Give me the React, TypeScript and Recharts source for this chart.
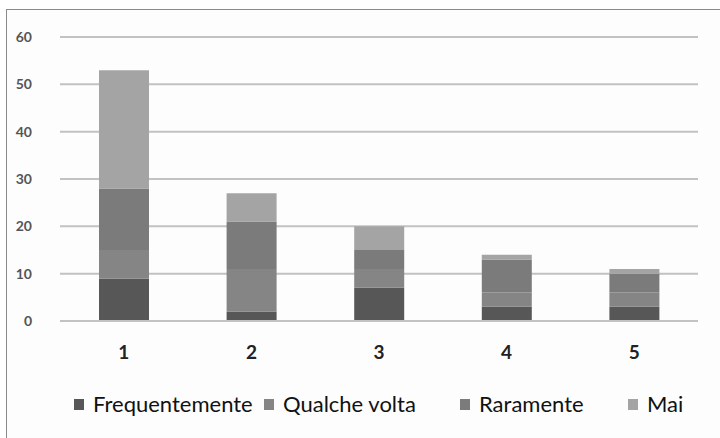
import React from 'react';
import { BarChart, Bar, XAxis, YAxis, CartesianGrid } from 'recharts';

const categories = ['1', '2', '3', '4', '5'];
const frequentemente = [9, 2, 7, 3, 3];
const qualcheVolta = [6, 9, 4, 3, 3];
const raramente = [13, 10, 4, 7, 4];
const mai = [25, 6, 5, 1, 1];
const yTicks = [0, 10, 20, 30, 40, 50, 60];

const data = categories.map((c, i) => ({
  name: c,
  Frequentemente: frequentemente[i],
  'Qualche volta': qualcheVolta[i],
  Raramente: raramente[i],
  Mai: mai[i],
}));

// legend slot widths mimic the uneven Excel legend spacing
const SERIES = [
  { key: 'Frequentemente', color: '#575757', slot: 190 },
  { key: 'Qualche volta', color: '#858585', slot: 196 },
  { key: 'Raramente', color: '#7b7b7b', slot: 168 },
  { key: 'Mai', color: '#a4a4a4', slot: 60 },
];

const FONT = 'Lato, "Open Sans", sans-serif';

export default function App() {
  return (
    <div style={{ position: 'absolute', left: 0, top: 0, width: 720, height: 438, background: '#fff', fontFamily: FONT }}>
      <div
        style={{
          position: 'absolute',
          left: 6,
          top: 9,
          width: 720,
          height: 440,
          border: '1px solid #8a8a8a',
          boxSizing: 'border-box',
          background: '#fdfdfd',
        }}
      />
      <div style={{ position: 'absolute', left: 0, top: 0 }}>
        <BarChart
          width={720}
          height={438}
          data={data}
          margin={{ top: 37, right: 22, left: 0, bottom: 0 }}
          barSize={50}
        >
          <CartesianGrid vertical={false} stroke="#c2c2c2" strokeWidth={2} />
          <XAxis
            dataKey="name"
            axisLine={{ stroke: '#c2c2c2', strokeWidth: 2 }}
            tickLine={false}
            tickMargin={19}
            height={117}
            tick={{ fontSize: 19, fontWeight: 700, fill: '#222', fontFamily: FONT }}
          />
          <YAxis
            width={60}
            domain={[0, 60]}
            ticks={yTicks}
            axisLine={false}
            tickLine={false}
            tickSize={0}
            tickMargin={28}
            tick={{ fontSize: 14, fontWeight: 700, fill: '#555', fontFamily: FONT }}
          />
          {SERIES.map((s) => (
            <Bar key={s.key} dataKey={s.key} stackId="a" fill={s.color} isAnimationActive={false} />
          ))}
        </BarChart>
      </div>
      <div
        style={{
          position: 'absolute',
          left: 74,
          top: 390,
          display: 'flex',
          fontSize: 22,
          color: '#111',
          lineHeight: '28px',
        }}
      >
        {SERIES.map((s) => (
          <div key={s.key} style={{ display: 'flex', alignItems: 'center', gap: 9, width: s.slot }}>
            <span style={{ display: 'inline-block', width: 10, height: 11, background: s.color }} />
            <span>{s.key}</span>
          </div>
        ))}
      </div>
    </div>
  );
}
